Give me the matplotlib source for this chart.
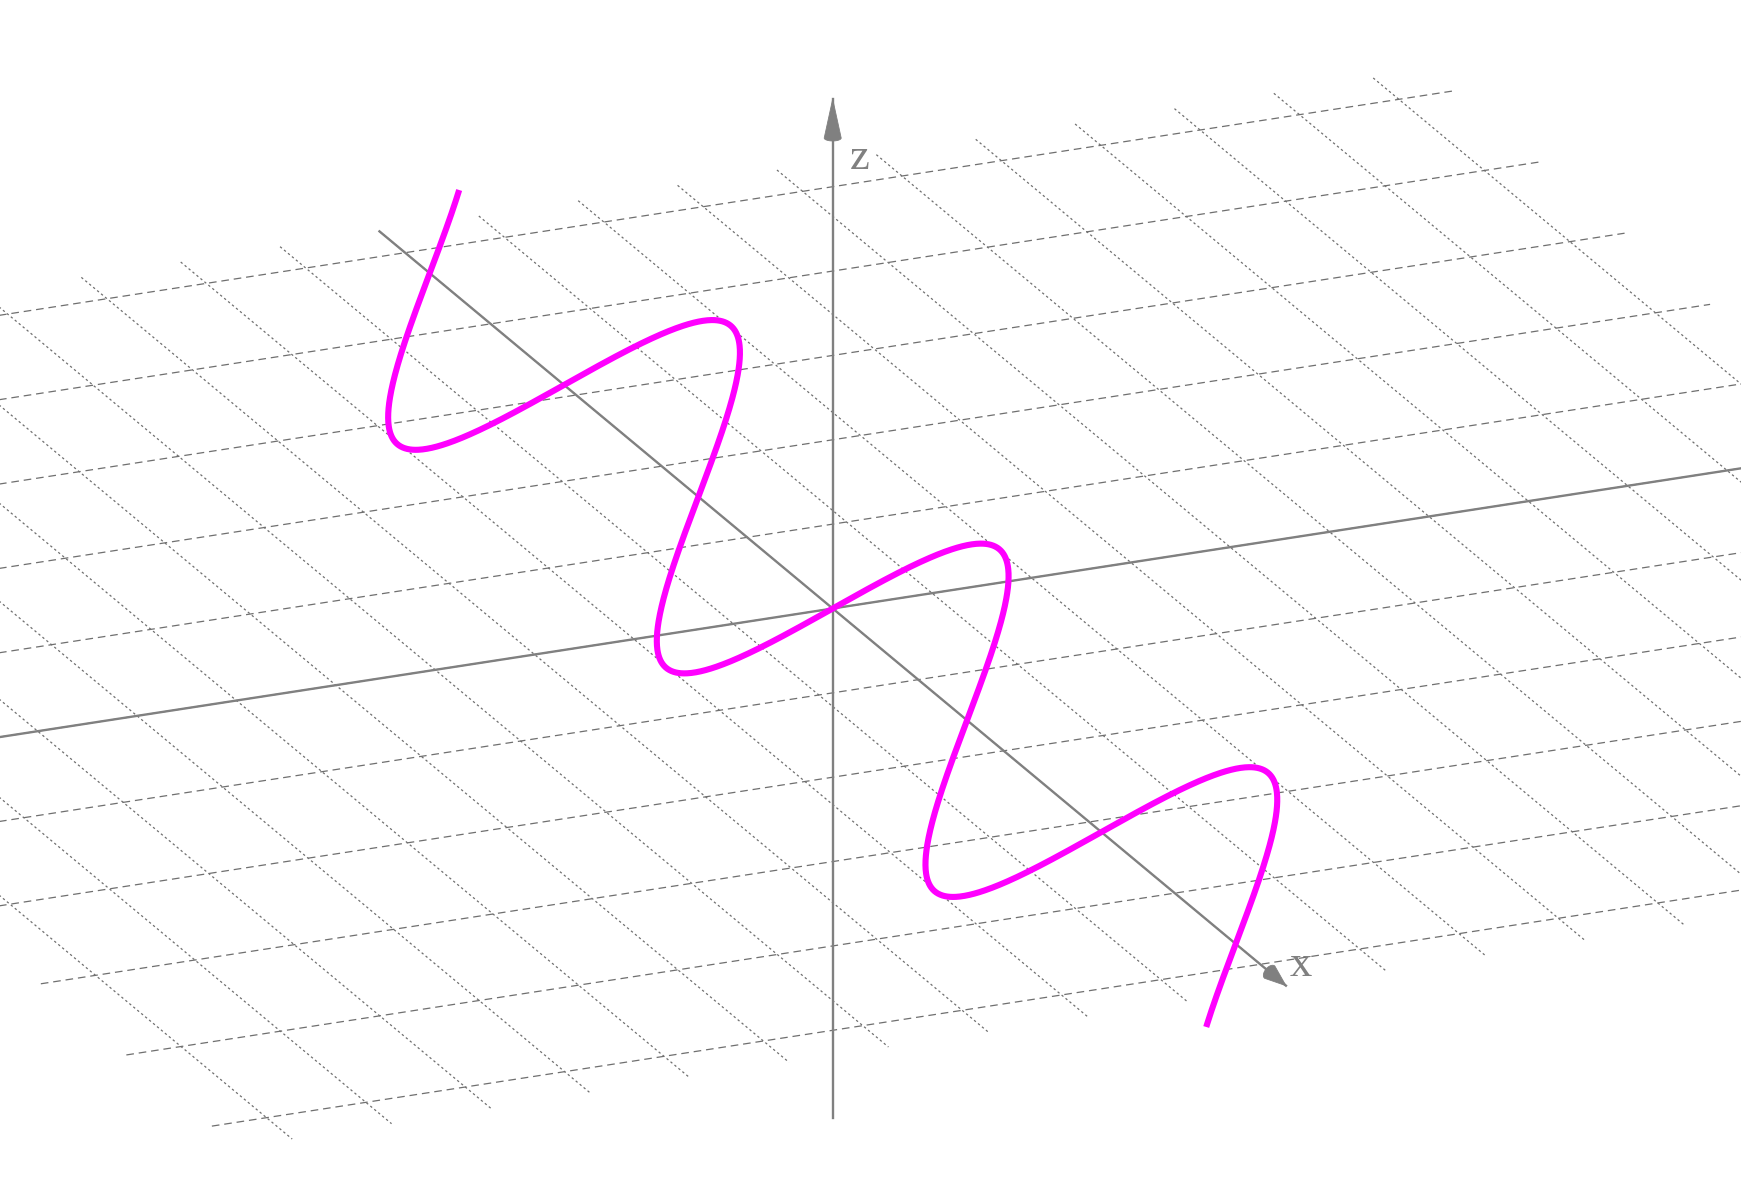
import numpy as np
import matplotlib.pyplot as plt
from matplotlib.patches import Polygon

plt.rcParams['lines.scale_dashes'] = False

# curve (t, 2 sin t, 2 sin t) for t in [-10, 10]
t_range = [-10, 10]
amp_y = 2
amp_z = 2

# half extents of the clipping box (axes run over the full box)
x_half = 10.6
y_half = 21.1
z_half = 10.2

# grid in the xy-plane
grid_x = [-10, -8, -6, -4, -2, 0, 2, 4, 6, 8, 10]          # lines parallel to y
grid_y = [-20, -18, -16, -14, -12, -10, -8, -6, -4, -2, 0,
          2, 4, 6, 8, 10, 12, 14, 16, 18, 20]                # lines parallel to x

axis_labels = ['x', 'z']

# view (orthographic, per-axis scale in pixels per unit)
W, H = 1741, 1186
origin_px = (832.7, 608.5)
scale = (108.1, 54.1, 53.5)
azim = np.radians(-23.3)
elev = np.radians(21.0)

grid_color = '#6f6f6f'
axis_color = '#808080'
curve_color = '#ff00ff'

right = np.array([-np.sin(azim), np.cos(azim), 0.0])
up = np.array([-np.sin(elev) * np.cos(azim), -np.sin(elev) * np.sin(azim), np.cos(elev)])


def project(x, y, z):
    x, y, z = np.broadcast_arrays(np.asarray(x, float), np.asarray(y, float), np.asarray(z, float))
    qx, qy, qz = x * scale[0], y * scale[1], z * scale[2]
    sx = qx * right[0] + qy * right[1] + qz * right[2]
    sy = qx * up[0] + qy * up[1] + qz * up[2]
    return origin_px[0] + sx, origin_px[1] - sy


def cone(ax, tip, back, half_w, bulge):
    tx, ty = project(*tip)
    bx, by = project(*back)
    d = np.array([tx - bx, ty - by])
    d = d / np.hypot(d[0], d[1])
    n = np.array([-d[1], d[0]])
    a = np.linspace(0, np.pi, 24)
    px = bx + n[0] * half_w * np.cos(a) - d[0] * bulge * half_w * np.sin(a)
    py = by + n[1] * half_w * np.cos(a) - d[1] * bulge * half_w * np.sin(a)
    pts = np.column_stack([np.r_[tx, px], np.r_[ty, py]])
    ax.add_patch(Polygon(pts, closed=True, fc=axis_color, ec=axis_color, lw=0.6, zorder=4))


fig = plt.figure(figsize=(W / 100, H / 100), dpi=100)
ax = fig.add_axes([0, 0, 1, 1])
ax.set_xlim(0, W)
ax.set_ylim(H, 0)
ax.axis('off')

# grid lines parallel to y (longer dashes)
for gx in grid_x:
    sx, sy = project([gx, gx], [-y_half, y_half], [0, 0])
    ax.plot(sx, sy, color=grid_color, lw=0.9, dashes=(5.5, 3.5), zorder=1)

# grid lines parallel to x (short dashes)
for gy in grid_y:
    sx, sy = project([-x_half, x_half], [gy, gy], [0, 0])
    ax.plot(sx, sy, color=grid_color, lw=0.9, dashes=(1.7, 2.0), zorder=1)

# axes
sx, sy = project([-x_half, x_half], 0, 0)
ax.plot(sx, sy, color=axis_color, lw=1.7, zorder=2)
sx, sy = project(0, [-y_half, y_half], 0)
ax.plot(sx, sy, color=axis_color, lw=1.7, zorder=2)
sx, sy = project(0, 0, [-z_half, z_half])
ax.plot(sx, sy, color=axis_color, lw=1.7, zorder=2)

cone(ax, (0, 0, z_half), (0, 0, z_half - 0.78), 8.5, 0.35)
cone(ax, (x_half, 0, 0), (x_half - 0.38, 0, 0), 8, 0.6)

# axis labels
lx, ly = project(x_half, 0, 0)
ax.text(lx + 15, ly - 10, axis_labels[0], fontsize=32, family='Liberation Serif',
        color=axis_color, ha='center', va='baseline', zorder=5)
lx, ly = project(0, 0, z_half)
ax.text(lx + 26.5, ly + 69.5, axis_labels[1], fontsize=32, family='Liberation Serif',
        color=axis_color, ha='center', va='baseline', zorder=5)

# the curve
t = np.linspace(t_range[0], t_range[1], 1500)
sx, sy = project(t, amp_y * np.sin(t), amp_z * np.sin(t))
ax.plot(sx, sy, color=curve_color, lw=4.4, solid_capstyle='butt', zorder=3)

fig.savefig('out.png', dpi=100, facecolor='white')
